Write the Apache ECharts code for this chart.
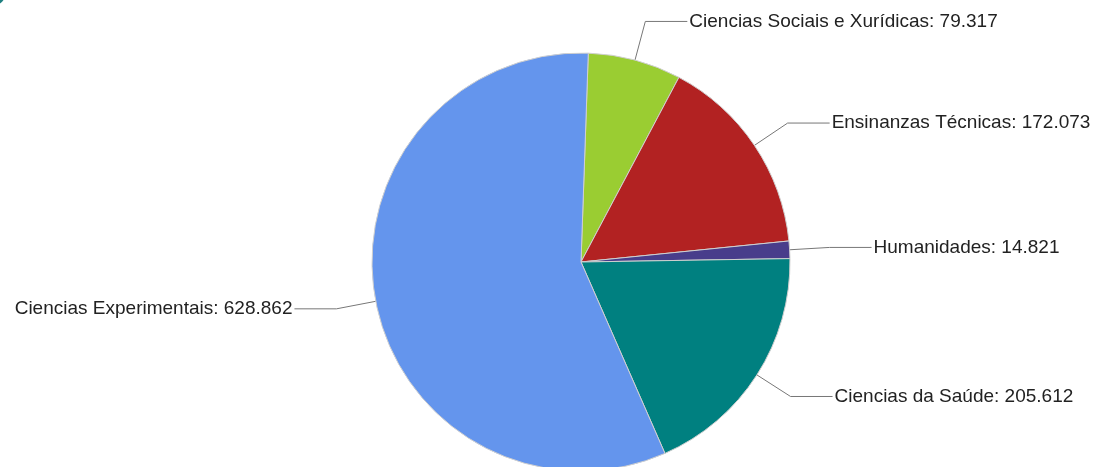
<!DOCTYPE html>
<html>
<head>
<meta charset="utf-8">
<script src="https://cdn.jsdelivr.net/npm/echarts@6/dist/echarts.min.js"></script>
<style>
  html, body { margin: 0; padding: 0; background: #fff; }
  #chart { width: 1097px; height: 467px; }
</style>
</head>
<body>
<div id="chart"></div>
<script>
// datos por rama de coñecemento
const categories = [
  "Ciencias Sociais e Xurídicas",
  "Ensinanzas Técnicas",
  "Humanidades",
  "Ciencias da Saúde",
  "Ciencias Experimentais"
]
const values = [79.317, 172.073, 14.821, 205.612, 628.862]
const colors = ["#9acd32", "#b22222", "#483d8b", "#008080", "#6495ed"]

const chart = echarts.init(document.getElementById("chart"))
chart.setOption({
  animation: false,
  graphic: [
    {
      type: "circle",
      shape: { cx: -8, cy: -8, r: 14 },
      style: { fill: "#1f7f80" },
    },
  ],
  series: [
    {
      type: "pie",
      center: [581, 262],
      radius: 209,
      startAngle: 88,
      clockwise: true,
      avoidLabelOverlap: true,
      itemStyle: {
        borderColor: "#cfcfcf",
        borderWidth: 1,
      },
      label: {
        show: true,
        formatter: (p) => p.name + ": " + p.value.toFixed(3),
        fontFamily: "Liberation Sans, Arial, sans-serif",
        fontSize: 19,
        color: "#222",
        overflow: "none",
        distanceToLabelLine: 2,
      },
      labelLine: {
        show: true,
        length: 40,
        length2: 42,
        smooth: false,
        lineStyle: { color: "#777", width: 1 },
      },
      emphasis: { disabled: true },
      data: categories.map((name, i) => ({
        name: name,
        value: values[i],
        itemStyle: { color: colors[i] },
      })),
    },
  ],
})
</script>
</body>
</html>
